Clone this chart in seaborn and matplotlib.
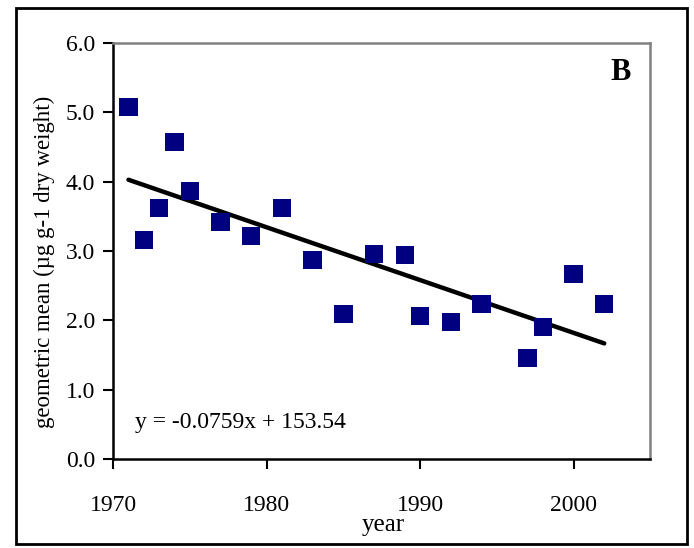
import numpy as np
import pandas as pd
import matplotlib
matplotlib.use("Agg")
import matplotlib.pyplot as plt
import seaborn as sns
from matplotlib.patches import Rectangle

years = [1971, 1972, 1973, 1974, 1975, 1977, 1979, 1981, 1983, 1985,
         1987, 1989, 1990, 1992, 1994, 1997, 1998, 2000, 2002]
geo_mean = [5.08, 3.16, 3.62, 4.57, 3.87, 3.42, 3.22, 3.62, 2.87, 2.09,
            2.96, 2.94, 2.06, 1.98, 2.24, 1.46, 1.90, 2.67, 2.24]
x_ticks = [1970, 1980, 1990, 2000]
y_ticks = [0.0, 1.0, 2.0, 3.0, 4.0, 5.0, 6.0]
equation = "y = -0.0759x + 153.54"
panel = "B"

df = pd.DataFrame({"year": years, "value": geo_mean})

sns.set_theme(style="white")
plt.rcParams['font.family'] = ['Liberation Serif', 'DejaVu Serif']
plt.rcParams['text.color'] = 'black'
plt.rcParams['axes.labelcolor'] = 'black'

fig = plt.figure(figsize=(6.94, 5.48), dpi=100)
ax = fig.add_axes([0.163, 0.1624, 0.774, 0.7591])

sns.regplot(data=df, x="year", y="value", ax=ax, ci=None, truncate=True,
            scatter=False, line_kws=dict(color="black", lw=3.2, solid_capstyle="round"))
sns.scatterplot(data=df, x="year", y="value", ax=ax, marker="s", s=175,
                color="#000080", edgecolor="none", zorder=3)

ax.set_xlim(1970, 2005)
ax.set_ylim(0, 6)
ax.set_xticks(x_ticks)
ax.set_yticks(y_ticks)
ax.set_yticklabels([f"{v:.1f}" for v in y_ticks])
ax.tick_params(axis="both", labelsize=17, colors="black", length=7, width=1.5,
               direction="out", left=True, bottom=True)
ax.tick_params(axis="x", pad=19)
ax.tick_params(axis="y", pad=6)
ax.set_xlabel("year", fontsize=18, color="black")
ax.set_ylabel("geometric mean (\u00b5g g-1 dry weight)", fontsize=16.5, color="black")
ax.xaxis.set_label_coords(0.503, -0.132)
ax.yaxis.set_label_coords(-0.108, 0.474)

for s in ["left", "bottom"]:
    ax.spines[s].set_color("black")
    ax.spines[s].set_linewidth(1.8)
for s in ["top", "right"]:
    ax.spines[s].set_color("#808080")
    ax.spines[s].set_linewidth(1.8)
ax.grid(False)

ax.text(0.04, 0.088, equation, transform=ax.transAxes, fontsize=17, ha="left",
        va="center", color="black")
ax.text(0.945, 0.93, panel, transform=ax.transAxes, fontsize=22, fontweight="bold",
        ha="center", va="center", color="black")

fig.patches.append(Rectangle((16/694, 1 - 544/548), (687-16)/694, (544-8)/548,
                             transform=fig.transFigure, fill=False, edgecolor="black",
                             linewidth=2))

fig.savefig("out.png", dpi=100)
